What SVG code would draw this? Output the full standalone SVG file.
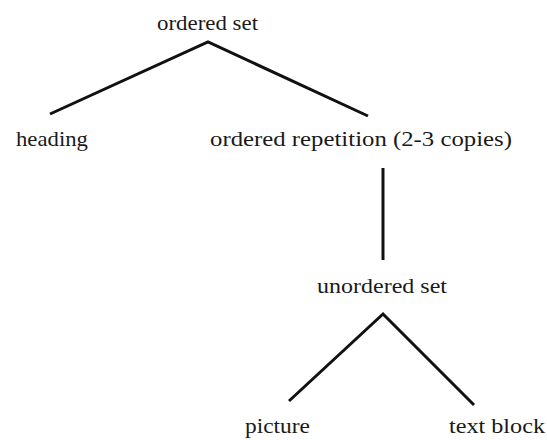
<svg xmlns="http://www.w3.org/2000/svg" width="547" height="440" viewBox="0 0 547 440">
<style>
text{font-family:"Liberation Serif","Times New Roman",serif;font-size:22px;fill:#1a1a1a}
.c{fill:none;stroke:#111;stroke-width:3;stroke-linejoin:miter;stroke-linecap:butt}
</style>
<rect width="547" height="440" fill="#fff"/>
<g id="connectors">
<polyline class="c" points="50,114 208,42 368,116"/>
<line class="c" x1="383" y1="168" x2="383" y2="260"/>
<polyline class="c" points="289,401 383,314 474,405"/>
</g>
<g id="n-ordered-set"><text x="157" y="30" textLength="101" lengthAdjust="spacingAndGlyphs">ordered set</text></g>
<g id="n-heading"><text x="16" y="146" textLength="72" lengthAdjust="spacingAndGlyphs">heading</text></g>
<g id="n-ordered-repetition"><text x="210" y="146" textLength="302" lengthAdjust="spacingAndGlyphs">ordered repetition (2-3 copies)</text></g>
<g id="n-unordered-set"><text x="317" y="293" textLength="130" lengthAdjust="spacingAndGlyphs">unordered set</text></g>
<g id="n-picture"><text x="245" y="433" textLength="65" lengthAdjust="spacingAndGlyphs">picture</text></g>
<g id="n-text-block"><text x="449" y="433" textLength="96" lengthAdjust="spacingAndGlyphs">text block</text></g>
</svg>
